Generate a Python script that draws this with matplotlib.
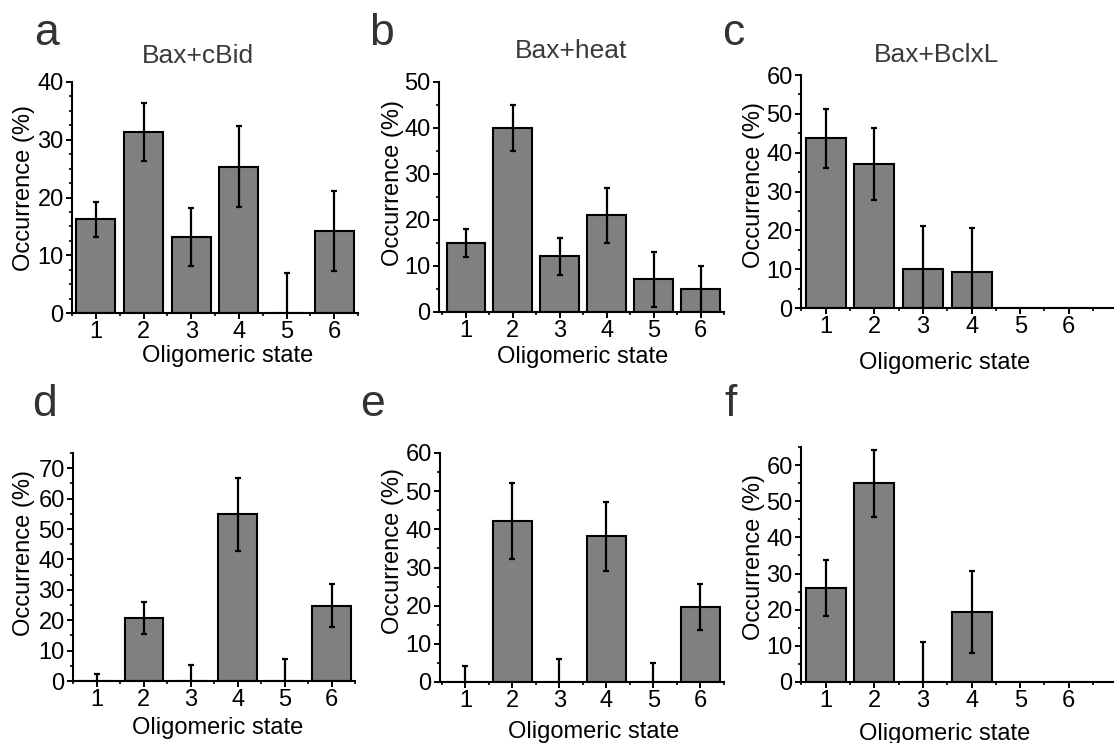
import numpy as np
import matplotlib
matplotlib.use("Agg")
import matplotlib.pyplot as plt
from matplotlib.ticker import MultipleLocator

plt.rcParams['font.family'] = ['Liberation Sans', 'DejaVu Sans']

# oligomeric states on the x axis
states = [1, 2, 3, 4, 5, 6]

# occurrence (%) and error for each panel
a_vals = [16.2, 31.3, 13.2, 25.3, 0, 14.2]
a_errs = [3.0, 5.0, 5.0, 7.0, 7.0, 7.0]
b_vals = [15.0, 40.0, 12.1, 21.0, 7.1, 5.1]
b_errs = [3.0, 5.0, 4.0, 6.0, 6.0, 5.0]
c_vals = [43.7, 37.0, 10.0, 9.3, 0, 0]
c_errs = [7.6, 9.3, 11.0, 11.4, 0, 0]
d_vals = [0, 20.8, 0, 54.9, 0, 24.8]
d_errs = [2.2, 5.2, 5.3, 12.0, 7.4, 7.0]
e_vals = [0, 42.1, 0, 38.2, 0, 19.6]
e_errs = [4.1, 10.0, 6.0, 9.0, 5.0, 6.0]
f_vals = [26.0, 55.0, 0, 19.4, 0, 0]
f_errs = [7.7, 9.3, 11.1, 11.4, 0, 0]

titles = ["Bax+cBid", "Bax+heat", "Bax+BclxL", "", "", ""]
letters = ["a", "b", "c", "d", "e", "f"]

W, H = 1114, 743
fig = plt.figure(figsize=(W / 100, H / 100), dpi=100)

# pixel boxes (left, right, top, bottom), xlim, ylim top, minor y step
panels = [
    (a_vals, a_errs, (72, 358, 82, 313), (0.5, 6.5), 40, 2.5),
    (b_vals, b_errs, (439, 724, 82, 312), (0.43, 6.5), 50, 5),
    (c_vals, c_errs, (801, 1114, 75, 308), (0.49, 6.93), 60, 5),
    (d_vals, d_errs, (73, 355, 453, 681), (0.49, 6.5), 75, 5),
    (e_vals, e_errs, (440, 724, 453, 682), (0.46, 6.5), 60, 5),
    (f_vals, f_errs, (801, 1114, 447, 682), (0.49, 6.93), 65, 5),
]

# label placement in axes coords
xlab_pos = [(0.545, -0.14), (0.505, -0.15), (0.46, -0.19),
            (0.514, -0.16), (0.54, -0.17), (0.46, -0.175)]
ylab_pos = [(-0.13, 0.54), (-0.123, 0.56), (-0.115, 0.53),
            (-0.135, 0.56), (-0.127, 0.57), (-0.115, 0.53)]
letter_pos = [(46, 45), (381, 45), (733, 45), (44, 416), (373, 416), (731, 416)]
title_pos = [(198, 63), (571, 58), (937, 62)]

for i, (vals, errs, box, xl, ytop, yminor) in enumerate(panels):
    l, r, t, b = box
    ax = fig.add_axes([l / W, 1 - b / H, (r - l) / W, (b - t) / H])
    ax.bar(states, vals, width=0.82, color="#808080", edgecolor="black",
           linewidth=1.5, zorder=2)
    # only draw error bars that are non-zero
    xs = [s for s, e in zip(states, errs) if e > 0]
    ys = [v for v, e in zip(vals, errs) if e > 0]
    es = [e for e in errs if e > 0]
    ax.errorbar(xs, ys, yerr=es, fmt="none", ecolor="black",
                elinewidth=1.6, capsize=2.5, capthick=1.6, zorder=3)
    ax.set_xlim(*xl)
    ax.set_ylim(0, ytop)
    ax.spines['top'].set_visible(False)
    ax.spines['right'].set_visible(False)
    ax.spines['left'].set_linewidth(1.5)
    ax.spines['bottom'].set_linewidth(1.5)
    ax.set_xticks(states)
    ax.xaxis.set_minor_locator(MultipleLocator(0.5))
    ax.yaxis.set_major_locator(MultipleLocator(10))
    ax.yaxis.set_minor_locator(MultipleLocator(yminor))
    ax.tick_params(which="major", direction="out", length=4, width=1.4,
                   labelsize=17, pad=2)
    ax.tick_params(which="minor", direction="out", length=2.5, width=1.2)
    ax.set_xlabel("Oligomeric state", fontsize=17)
    ax.set_ylabel("Occurrence (%)", fontsize=17)
    ax.xaxis.set_label_coords(*xlab_pos[i])
    ax.yaxis.set_label_coords(*ylab_pos[i])

    lx, ly = letter_pos[i]
    fig.text(lx / W, 1 - ly / H, letters[i], fontsize=32, color="#333333",
             ha="center", va="baseline")
    if titles[i]:
        tx, ty = title_pos[i]
        fig.text(tx / W, 1 - ty / H, titles[i], fontsize=19, color="#3a3a3a",
                 ha="center", va="baseline")

fig.savefig("out.png", dpi=100)
